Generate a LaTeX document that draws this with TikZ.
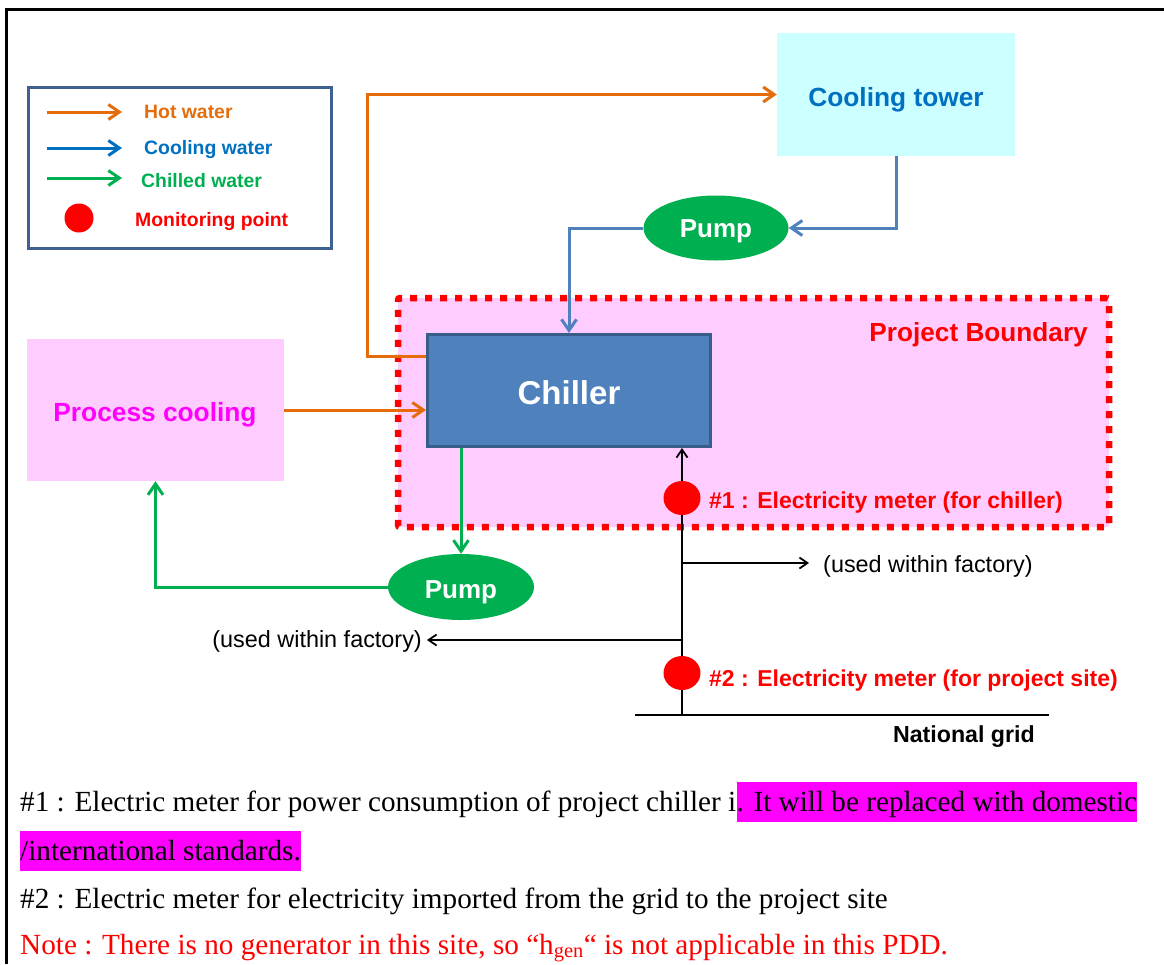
\documentclass[tikz,border=0pt]{standalone}
\usepackage{fontspec}
\setmainfont{Liberation Serif}
\setsansfont{Liberation Sans}
\usetikzlibrary{arrows.meta,shapes.geometric}
\definecolor{hotc}{HTML}{E46C0A}
\definecolor{coolc}{HTML}{0070C0}
\definecolor{linec}{HTML}{4F81BD}
\definecolor{chillc}{HTML}{00B050}
\definecolor{towerfill}{HTML}{CCFFFF}
\definecolor{pinkfill}{HTML}{FFCCFF}
\definecolor{chillerdraw}{HTML}{385D8A}
\definecolor{legenddraw}{HTML}{3F6190}
\definecolor{mag}{HTML}{FF00FF}
\definecolor{meterred}{HTML}{FF0000}
\tikzset{
  bigtip/.style={-{Straight Barb[length=11pt,width=15pt,line width=3pt]}},
  smalltip/.style={-{Straight Barb[length=8pt,width=11pt,line width=1.8pt]}},
  hotline/.style={draw=hotc,line width=3pt,bigtip},
  coolline/.style={draw=linec,line width=3pt,bigtip},
  chilline/.style={draw=chillc,line width=3pt,bigtip},
  elecline/.style={draw=black,line width=2pt},
  boxlabel/.style={font=\sffamily\bfseries\fontsize{26.3}{28}\selectfont,anchor=base,inner sep=0pt},
  legtext/.style={font=\sffamily\bfseries\fontsize{19.4}{22}\selectfont,anchor=base west,inner sep=0pt},
  pumpnode/.style={ellipse,fill=chillc,inner sep=0pt},
  pumptext/.style={text=white,font=\sffamily\bfseries\fontsize{26}{28}\selectfont,anchor=base,inner sep=0pt},
  meterdot/.style={ellipse,fill=meterred,inner sep=0pt,minimum width=37pt,minimum height=34pt},
  metertext/.style={font=\sffamily\bfseries\fontsize{23}{26}\selectfont,text=meterred,anchor=base west,inner sep=0pt},
  usedtext/.style={font=\sffamily\fontsize{23.4}{26}\selectfont,inner sep=0pt},
  notetext/.style={font=\fontsize{29.2}{32}\selectfont,inner sep=0pt,anchor=base west},
  hilite/.style={fill=mag,text height=29pt,text depth=11pt}
}
\begin{document}
\begin{tikzpicture}[x=1pt,y=-1pt]
\useasboundingbox (0,0) rectangle (1164,964);
% frame
\coordinate (fbl) at (6.5,964);
\coordinate (ftl) at (6.5,9.5);
\coordinate (ftr) at (1164,9.5);
\draw[line width=2.5pt] (fbl) -- (ftl) -- (ftr);

% legend
\node[draw=legenddraw,line width=2.5pt,minimum width=303pt,minimum height=161pt,inner sep=0pt] (legend) at (180,168) {};
\coordinate (lh1) at (47,112); \coordinate (lh2) at (122,112);
\coordinate (lc1) at (47,148); \coordinate (lc2) at (122,148);
\coordinate (lg1) at (47,178); \coordinate (lg2) at (122,178);
\draw[draw=hotc,line width=3pt,bigtip] (lh1) -- (lh2);
\draw[draw=coolc,line width=3pt,bigtip] (lc1) -- (lc2);
\draw[draw=chillc,line width=3pt,bigtip] (lg1) -- (lg2);
\node[legtext,text=hotc] (lt1) at (144,118) {Hot water};
\node[legtext,text=coolc] (lt2) at (144,154) {Cooling water};
\node[legtext,text=chillc] (lt3) at (141,187) {Chilled water};
\node[circle,fill=meterred,minimum size=29pt,inner sep=0pt] (ldot) at (79,218) {};
\node[legtext,text=meterred] (lt4) at (135,226) {Monitoring point};

% project boundary
\node[draw=meterred,fill=pinkfill,line width=6.5pt,dash pattern=on 7pt off 8pt,rounded corners=2pt,minimum width=711pt,minimum height=229pt,inner sep=0pt] (boundary) at (753.5,412.5) {};
\node[font=\sffamily\bfseries\fontsize{26.2}{28}\selectfont,text=meterred,anchor=base east,inner sep=0pt] (pblabel) at (1088,341) {Project Boundary};

% boxes
\node[fill=towerfill,minimum width=238pt,minimum height=123pt,inner sep=0pt] (tower) at (896,94.5) {};
\node[boxlabel,text=coolc] (towerlbl) at (896,106) {Cooling tower};
\node[fill=pinkfill,minimum width=257pt,minimum height=142pt,inner sep=0pt] (proc) at (155.5,410) {};
\node[boxlabel,text=mag] (proclbl) at (155,421) {Process cooling};
\node[fill=linec,draw=chillerdraw,line width=3pt,minimum width=283pt,minimum height=112pt,inner sep=0pt] (chiller) at (569,390.5) {};
\node[text=white,font=\sffamily\bfseries\fontsize{33}{36}\selectfont,anchor=base,inner sep=0pt] (chillerlbl) at (569,404) {Chiller};
\node[pumpnode,minimum width=145pt,minimum height=65pt] (pump1) at (716,228) {};
\node[pumptext] (pump1lbl) at (716,237) {Pump};
\node[pumpnode,minimum width=146pt,minimum height=66pt] (pump2) at (461,587) {};
\node[pumptext] (pump2lbl) at (461,598) {Pump};

% hot water
\coordinate (hx) at (367,356);
\draw[hotline] (chiller.west |- hx) -- (hx) |- (tower.west);
\draw[hotline] (proc.east) -- (chiller.west |- proc.east);
% cooling water
\draw[coolline] (tower.south) |- (pump1.east);
\draw[coolline] (pump1.west) -| (chiller.north);
% chilled water
\draw[chilline] (chiller.south -| pump2.north) -- (pump2.north);
\draw[chilline] (pump2.west) -| (proc.south);

% electricity
\coordinate (gl) at (635,715);
\coordinate (gr) at (1049,715);
\coordinate (gm) at (682,715);
\draw[elecline] (gl) -- (gr);
\draw[elecline,smalltip] (gm) -- (chiller.south -| gm);
\coordinate (br1) at (682,563); \coordinate (br1e) at (809,563);
\coordinate (br2) at (682,640); \coordinate (br2e) at (427,640);
\draw[elecline,smalltip] (br1) -- (br1e);
\draw[elecline,smalltip] (br2) -- (br2e);
\node[usedtext,anchor=base west] (used1) at (823,572) {(used within factory)};
\node[usedtext,anchor=base east] (used2) at (422,647) {(used within factory)};
\node[meterdot] (m1) at (682,498) {};
\node[meterdot] (m2) at (682,673) {};
\node[metertext] (m1t) at (709,508) {\#1 : Electricity meter (for chiller)};
\node[metertext] (m2t) at (709,686) {\#2 : Electricity meter (for project site)};
\node[font=\sffamily\bfseries\fontsize{23.2}{26}\selectfont,anchor=base east,inner sep=0pt] (grid) at (1035,742) {National grid};

% notes
\node[notetext] (n1a) at (20,811) {\#1 : Electric meter for power consumption of project chiller i};
\node[notetext,hilite,inner xsep=0pt] (n1b) at (n1a.base east) {. It will be replaced with domestic\hspace{6pt}};
\node[notetext,hilite,inner xsep=0pt] (n2) at (20,860) {/international standards.};
\node[notetext] (n3) at (20,908) {\#2 : Electric meter for electricity imported from the grid to the project site};
\node[notetext,text=meterred] (n4) at (20,954) {Note : There is no generator in this site, so “h\textsubscript{gen}“ is not applicable in this PDD.};
\end{tikzpicture}
\end{document}
